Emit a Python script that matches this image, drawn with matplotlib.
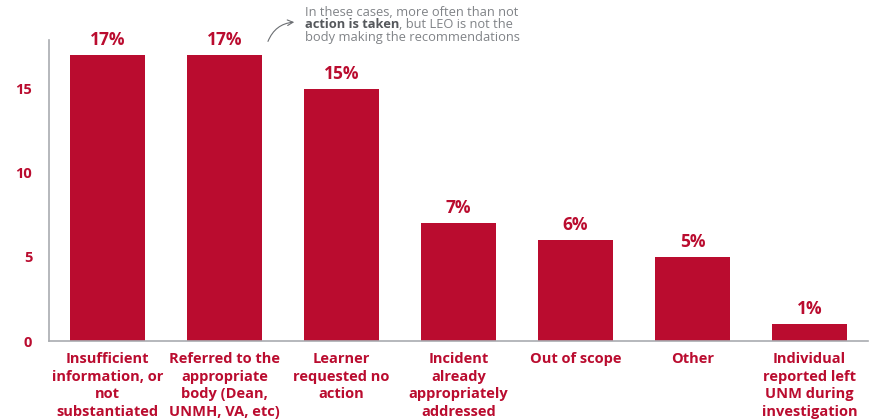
import numpy as np
from matplotlib import pyplot as plt

plt.rcParams['font.family'] = ['Open Sans', 'DejaVu Sans']

# Data
categories = ["Insufficient\ninformation, or\nnot\nsubstantiated",
              "Referred to the\nappropriate\nbody (Dean,\nUNMH, VA, etc)",
              "Learner\nrequested no\naction",
              "Incident\nalready\nappropriately\naddressed",
              "Out of scope",
              "Other",
              "Individual\nreported left\nUNM during\ninvestigation"]
counts = [17, 17, 15, 7, 6, 5, 1]
pct_labels = ["17%", "17%", "15%", "7%", "6%", "5%", "1%"]
yticks = [0, 5, 10, 15]

red = "#BA0C2F"
grey = "#808387"

fig = plt.figure(figsize=(8.75, 4.19), dpi=100)
ax = fig.add_axes([0.056, 0.186, 0.936, 0.719])

x = np.arange(len(counts))
ax.bar(x, counts, width=0.64, color=red, zorder=2)

for xi, c, lab in zip(x, counts, pct_labels):
    ax.text(xi, c + 0.35, lab, ha='center', va='bottom', color=red,
            fontsize=12.5, fontweight='bold')

ax.set_xlim(-0.5, 6.5)
ax.set_ylim(0, 17.9)
ax.set_yticks(yticks)
ax.set_yticklabels([str(t) for t in yticks], color=red, fontsize=10.5,
                   fontweight='bold')
ax.set_xticks(x)
ax.set_xticklabels(categories, color=red, fontsize=10.5, fontweight='bold',
                   linespacing=1.32, va='top')
ax.tick_params(axis='both', length=0)
ax.tick_params(axis='y', pad=12)
ax.tick_params(axis='x', pad=8)

for s in ['top', 'right']:
    ax.spines[s].set_visible(False)
ax.spines['left'].set_color('#a9acb0')
ax.spines['bottom'].set_color('#a9acb0')
ax.spines['left'].set_linewidth(1.2)
ax.spines['bottom'].set_linewidth(1.2)

# annotation at top
fx = 305 / 875
t1 = fig.text(fx, 1 - 13 / 419, "In these cases, more often than not",
              color=grey, fontsize=9.3, va='center', ha='left')
t2 = fig.text(fx, 1 - 25 / 419, "action is taken", color='#55585c',
              fontsize=9.3, fontweight='bold', va='center', ha='left')
ax.annotate(", but LEO is not the", xy=(1, 0), xycoords=t2, va='bottom',
            ha='left', color=grey, fontsize=9.3, annotation_clip=False)
fig.text(fx, 1 - 37 / 419, "body making the recommendations",
         color=grey, fontsize=9.3, va='center', ha='left')

ax.annotate("", xy=(297 / 875, 1 - 22 / 419), xytext=(267 / 875, 1 - 44 / 419),
            xycoords='figure fraction', textcoords='figure fraction',
            arrowprops=dict(arrowstyle='->', color='#6b6e72', lw=0.8,
                            connectionstyle='arc3,rad=-0.35'))

plt.savefig("out.png", dpi=100)
